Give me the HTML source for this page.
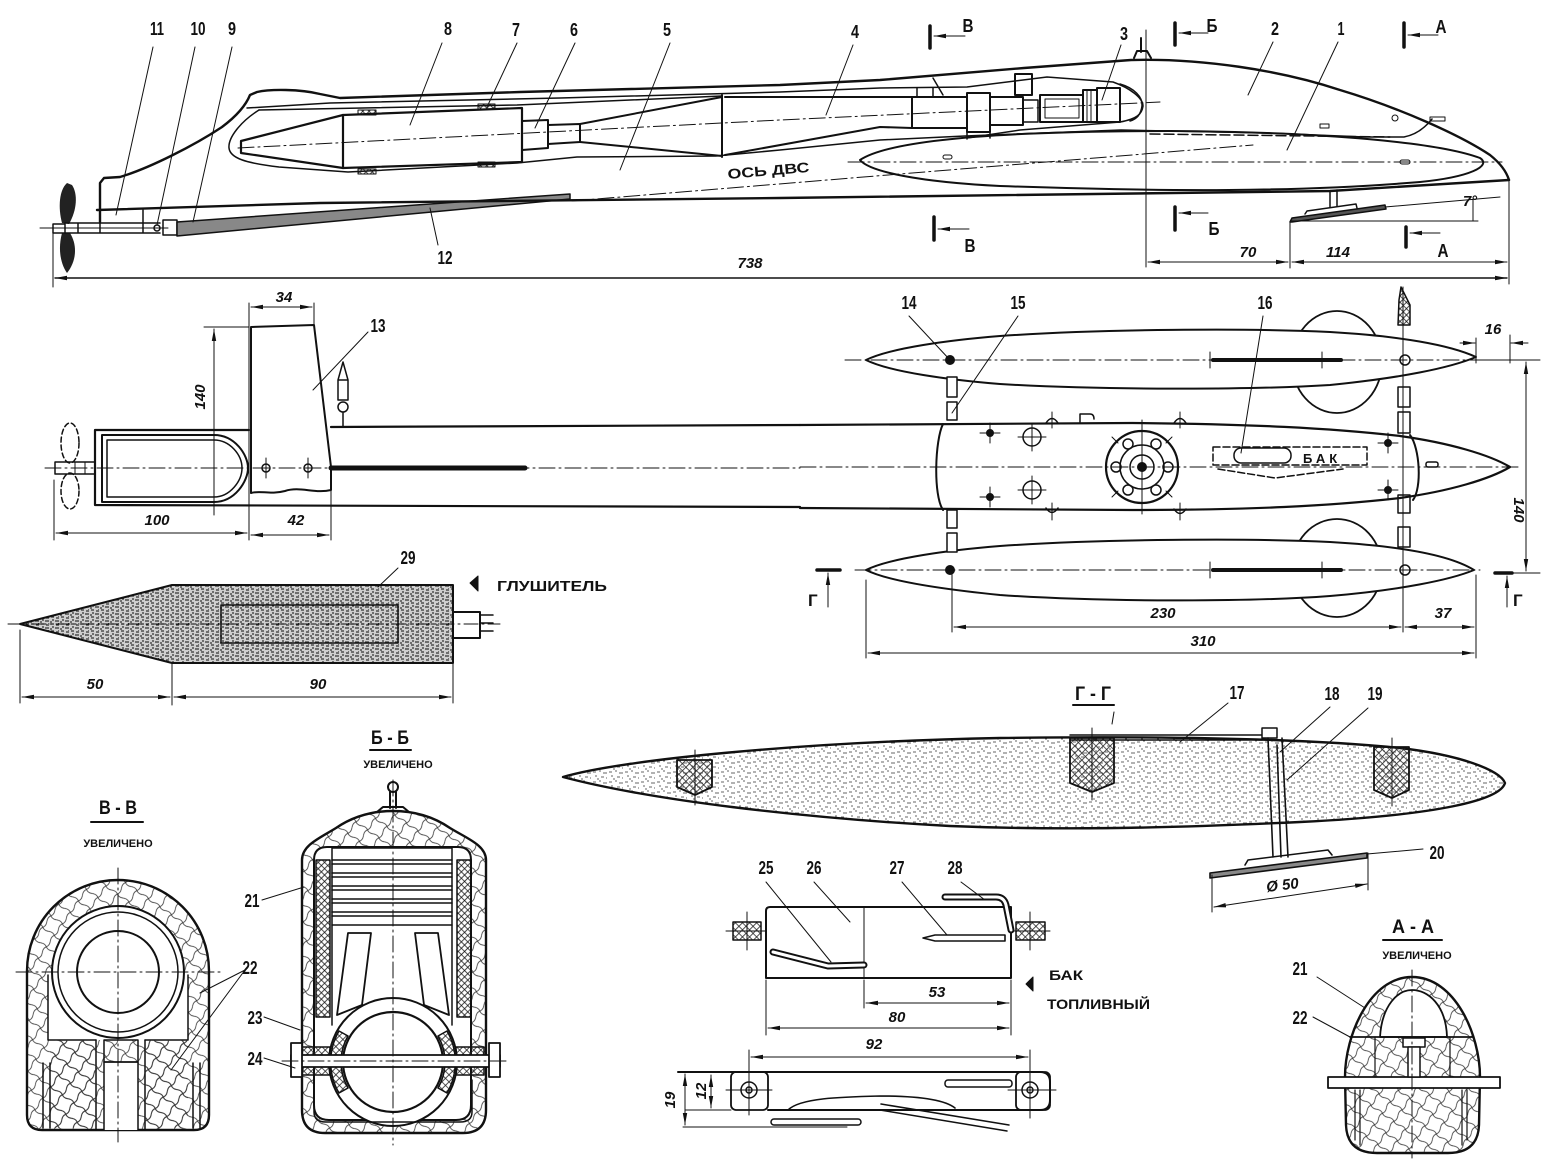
<!DOCTYPE html>
<html><head><meta charset="utf-8">
<style>
html,body{margin:0;padding:0;background:#fff}
svg{display:block}
text{font-family:"Liberation Sans",sans-serif;fill:#111;stroke:none}
.n{font-weight:bold;font-size:18px}
.d{font-weight:bold;font-style:italic;font-size:15px}
.s{font-weight:bold;font-size:19px}
.u{font-weight:bold;font-size:11px}
.c{stroke-width:1;stroke-dasharray:16 4 2 4}
.t{stroke-width:1}
</style></head><body>
<svg width="1544" height="1175" viewBox="0 0 1544 1175" xmlns="http://www.w3.org/2000/svg">
<defs>
<marker id="ar" viewBox="0 0 12 6" refX="12" refY="3" markerWidth="12" markerHeight="6" orient="auto-start-reverse" markerUnits="userSpaceOnUse"><path d="M0,0.8 L12,3 L0,5.2 Z" fill="#111"/></marker>
<pattern id="wood" width="14" height="14" patternUnits="userSpaceOnUse" patternTransform="rotate(35)"><path d="M0,7 Q4,5 7,7 T14,7 M7,0 Q9,4 7,7 T7,14" stroke="#333" stroke-width="0.8" fill="none"/></pattern>
<pattern id="xh" width="4.5" height="4.5" patternUnits="userSpaceOnUse" patternTransform="rotate(45)"><path d="M0,2.25H4.5M2.25,0V4.5" stroke="#111" stroke-width="0.8" fill="none"/></pattern>
<pattern id="xm" width="5" height="5" patternUnits="userSpaceOnUse" patternTransform="rotate(45)"><path d="M0,2.5H5M2.5,0V5" stroke="#222" stroke-width="0.8" fill="none"/></pattern>
<pattern id="st" width="16" height="10" patternUnits="userSpaceOnUse"><path d="M1,2h3M7,1h2M11,3h4M3,6h2M9,7h3M14,8h1M5,9h2" stroke="#666" stroke-width="1" fill="none"/></pattern>
<pattern id="st2" width="10" height="7" patternUnits="userSpaceOnUse"><rect width="10" height="7" fill="#cfcfcf"/><path d="M1,1h3M6,2h3M2,4h2M5,5h4M0,6h2M8,0h1" stroke="#333" stroke-width="1.2" fill="none"/></pattern>
</defs>
<rect width="1544" height="1175" fill="#fff"/>

<g fill="none" stroke="#111" stroke-width="2" stroke-linecap="round" stroke-linejoin="round">

<!-- ================= SIDE VIEW ================= -->
<path d="M67,183 C59,190 58,208 62,223 L69,224 C77,210 78,194 72,185 Z" fill="#222" stroke="none"/>
<path d="M62,233 C58,248 60,263 67,273 C76,262 78,246 70,233 Z" fill="#222" stroke="none"/>
<path d="M40,228 H168" class="t"/>
<rect x="53" y="224" width="12" height="9" stroke-width="1.5"/>
<path d="M53,232 V287" class="t"/>
<path d="M65,223 H160 M65,233 H160 M78,223 V233 M100,223 V233 M143,210 V233" stroke-width="1.5"/>
<circle cx="157" cy="228" r="3" stroke-width="1.5"/>
<rect x="163" y="220" width="14" height="15" stroke-width="1.5"/>
<path d="M177,222 L570,194 L570,199 L177,236 Z" fill="#888" stroke-width="1.5"/>
<!-- hull -->
<path d="M100,222 V183 L104,178 L120,177 C150,168 195,145 222,127 C238,115 246,105 250,95 L257,92 C270,89 300,89 320,94 L340,98 L520,92 L780,85 L880,80 L1024,68 L1131,60 C1200,58 1280,70 1340,90 C1400,108 1460,135 1490,155 Q1505,167 1509,180" stroke-width="2.4"/>
<path d="M97,210 L320,203 L780,198 L1330,191 L1509,180" stroke-width="2.4"/>
<path d="M247,108 L330,103 L560,98 L780,92 L880,88 L967,87 L1047,77 L1113,82 C1130,88 1143,98 1143,106 C1142,114 1137,119 1120,122 L1020,130 L967,138" stroke-width="1.5"/>
<path d="M933,78 L943,95 M917,88 V97 M933,88 V97" stroke-width="1.5"/>
<!-- compartment -->
<path d="M259,110 C240,122 228,138 229,148 C230,158 245,163 279,167 L348,172 L517,163 L577,157 L716,156 L780,150 L880,140 L965,136 L1121,130 L1268,133 L1365,137 L1404,137 Q1420,134 1432,119" stroke-width="1.5"/>
<path d="M259,110 L517,105 L722,96" stroke-width="1.5"/>
<!-- muffler 8 -->
<path d="M343,115 L241,141 L241,153 L343,168" stroke-width="2.2"/>
<path d="M343,115 L522,108 L522,162 L343,168 Z" stroke-width="2.2"/>
<path d="M522,121 L548,120 L548,148 L522,150 M548,125 L580,124 L580,142 L548,144" stroke-width="2"/>
<path d="M580,124 L722,97 M580,142 L722,156 M722,95 V157" stroke-width="2"/>
<path d="M725,97 L912,97 M725,155 L880,127 L912,128" stroke-width="2"/>
<rect x="358" y="110" width="18" height="5" fill="url(#xh)" stroke-width="1"/>
<rect x="478" y="104" width="17" height="5" fill="url(#xh)" stroke-width="1"/>
<rect x="358" y="169" width="18" height="5" fill="url(#xh)" stroke-width="1"/>
<rect x="478" y="162" width="17" height="5" fill="url(#xh)" stroke-width="1"/>
<!-- engine -->
<rect x="912" y="97" width="55" height="31" stroke-width="2"/>
<rect x="967" y="93" width="23" height="39" stroke-width="2"/>
<rect x="990" y="97" width="33" height="28" stroke-width="2"/>
<rect x="1015" y="74" width="17" height="21" stroke-width="2"/>
<rect x="1023" y="100" width="15" height="22" stroke-width="1.5"/>
<rect x="1040" y="95" width="43" height="27" stroke-width="2"/>
<rect x="1045" y="99" width="34" height="19" stroke-width="1"/>
<rect x="1083" y="90" width="14" height="32" stroke-width="2"/>
<path d="M1087,91 V121 M1091,91 V121" class="t"/>
<rect x="1097" y="88" width="23" height="34" stroke-width="2"/>
<path d="M1120,84 C1134,88 1143,97 1142,106 C1141,114 1137,119 1130,121" stroke-width="1.5"/>
<path d="M967,132 V139 M990,132 V138" stroke-width="1.5"/>
<path d="M1141,38 V52 M1134,58 L1137,51 H1147 L1151,58" stroke-width="2"/>
<!-- axes -->
<path class="c" d="M238,148 L780,120 L1160,102"/>
<path class="c" d="M572,201 L1253,145"/>
<text x="728" y="179" transform="rotate(-5 728 179)" font-size="14" font-weight="bold" textLength="82" lengthAdjust="spacingAndGlyphs">ОСЬ ДВС</text>
<!-- float 1 -->
<path d="M860,160 C890,140 1000,131 1170,131 C1330,132 1440,143 1480,158 C1492,166 1470,177 1420,182 C1300,192 1170,192 1000,186 C920,182 870,172 860,160 Z" stroke-width="2"/>
<path class="c" d="M848,162 H1502"/>
<path d="M1150,134 L1390,137" stroke-dasharray="10 4" stroke-width="1.5"/>
<rect x="943" y="155" width="9" height="4" rx="2" class="t"/>
<rect x="1400" y="160" width="10" height="4" rx="2" class="t"/>
<rect x="1320" y="124" width="9" height="4" class="t"/>
<circle cx="1395" cy="118" r="3" class="t"/>
<rect x="1430" y="117" width="15" height="4" class="t"/>
<!-- skeg plate -->
<path d="M1330,191 V207 M1337,190 V206" stroke-width="1.5"/>
<path d="M1290,222 L1292,218 L1385,205 L1386,209 L1292,222 Z" fill="#555" stroke-width="1.5"/>
<path d="M1305,214 L1307,211 L1356,204 L1357,208" stroke-width="1.5"/>
<path d="M1292,221 H1478 M1385,207 L1500,197 M1473,199 V221" class="t"/>
<text x="1470" y="206" class="d" text-anchor="middle">7°</text>
<!-- dims side -->
<path d="M1146,30 V267 M1290,222 V268 M1509,180 V284" class="t"/>
<path d="M1148,262 H1288" class="t" marker-start="url(#ar)" marker-end="url(#ar)"/>
<path d="M1292,262 H1507" class="t" marker-start="url(#ar)" marker-end="url(#ar)"/>
<path d="M55,278 H1507" stroke-width="1.4" marker-start="url(#ar)" marker-end="url(#ar)"/>
<text x="1248" y="257" class="d" text-anchor="middle">70</text>
<text x="1338" y="257" class="d" text-anchor="middle">114</text>
<text x="750" y="268" class="d" text-anchor="middle">738</text>
<!-- section markers -->
<path d="M930,26 V48 M934,217 V240 M1175,23 V45 M1175,207 V230 M1404,23 V47 M1406,227 V247" stroke-width="3.5"/>
<path d="M965,36 H934" class="t" marker-end="url(#ar)"/>
<path d="M969,229 H938" class="t" marker-end="url(#ar)"/>
<path d="M1208,33 H1179" class="t" marker-end="url(#ar)"/>
<path d="M1208,213 H1179" class="t" marker-end="url(#ar)"/>
<path d="M1438,35 H1408" class="t" marker-end="url(#ar)"/>
<path d="M1440,233 H1410" class="t" marker-end="url(#ar)"/>
<text x="968" y="32" class="n" text-anchor="middle" textLength="11" lengthAdjust="spacingAndGlyphs">В</text>
<text x="970" y="252" class="n" text-anchor="middle" textLength="11" lengthAdjust="spacingAndGlyphs">В</text>
<text x="1212" y="32" class="n" text-anchor="middle" textLength="11" lengthAdjust="spacingAndGlyphs">Б</text>
<text x="1214" y="235" class="n" text-anchor="middle" textLength="11" lengthAdjust="spacingAndGlyphs">Б</text>
<text x="1441" y="33" class="n" text-anchor="middle" textLength="11" lengthAdjust="spacingAndGlyphs">А</text>
<text x="1443" y="257" class="n" text-anchor="middle" textLength="11" lengthAdjust="spacingAndGlyphs">А</text>
<!-- leaders side -->
<path d="M153,47 L116,215 M195,47 L157,225 M232,47 L193,222 M442,43 L410,125 M517,43 L487,107 M575,43 L535,128 M670,43 L620,170 M853,45 L826,115 M1121,45 L1102,100 M1273,42 L1248,95 M1338,42 L1287,150 M438,245 L430,208" class="t"/>

<!-- ================= TOP VIEW (stern) ================= -->
<path d="M249,303 V540 M314,303 V325" class="t"/>
<path d="M251,307 H312" class="t" marker-start="url(#ar)" marker-end="url(#ar)"/>
<path d="M251,327 L314,325 L331,467 L331,490 C315,494 300,486 285,491 C270,495 260,490 251,493 Z" stroke-width="2"/>
<path d="M204,327 H249" class="t"/>
<path d="M214,515 V329" class="t" marker-end="url(#ar)"/>
<path d="M368,332 L313,390" class="t"/>
<path d="M338,380 L343,362 L348,380 Z M338,380 H348 V400 H338 Z M343,413 V427" stroke-width="1.5"/>
<circle cx="343" cy="407" r="5" stroke-width="1.5"/>
<path d="M95,430 H249 M331,427 L800,425 M95,505 L800,507 M95,430 V505" stroke-width="2.2"/>
<path d="M102,435 H214 C235,435 248,455 248,468 C248,481 235,502 214,502 H102 Z" stroke-width="2"/>
<path d="M107,440 H214 C230,440 242,455 242,468 C242,481 230,497 214,497 H107 Z" stroke-width="1.5"/>
<ellipse cx="70" cy="443" rx="9" ry="20" stroke-dasharray="5 3" stroke-width="1.5"/>
<ellipse cx="70" cy="491" rx="9" ry="18" stroke-dasharray="5 3" stroke-width="1.5"/>
<rect x="55" y="462" width="40" height="12" stroke-width="1.5"/>
<path d="M75,462 V474 M85,462 V474" class="t"/>
<path class="c" d="M45,468 H800"/>
<circle cx="266" cy="468" r="4" stroke-width="1.5"/>
<circle cx="308" cy="468" r="4" stroke-width="1.5"/>
<path d="M266,458 V478 M308,458 V478" class="t"/>
<path d="M331,468 H525" stroke-width="5"/>
<path d="M54,480 V540 M331,490 V540" class="t"/>
<path d="M56,533 H247" class="t" marker-start="url(#ar)" marker-end="url(#ar)"/>
<path d="M251,535 H329" class="t" marker-start="url(#ar)" marker-end="url(#ar)"/>

<!-- muffler -->
<path d="M20,624 L172,585 H453 V663 H172 Z" fill="url(#st2)" stroke-width="2"/>
<rect x="221" y="605" width="177" height="38" stroke-width="1.5"/>
<path d="M453,612 H480 M453,638 H480 M480,612 V638" stroke-width="2"/>
<path d="M480,615 H493 M480,623 H493 M480,631 H493" stroke-width="1.5"/>
<path d="M8,624 H500" class="t" stroke-dasharray="14 4 2 4"/>
<path d="M398,568 L378,587" class="t"/>
<path d="M478,576 L470,583 L478,591 Z" fill="#111" stroke-width="1"/>
<path d="M20,630 V703 M172,663 V705 M453,663 V703" class="t"/>
<path d="M22,697 H170" class="t" marker-start="url(#ar)" marker-end="url(#ar)"/>
<path d="M174,697 H451" class="t" marker-start="url(#ar)" marker-end="url(#ar)"/>

<!-- ================= TOP VIEW (front) ================= -->
<ellipse cx="1337" cy="362" rx="45" ry="51" stroke-width="1.8"/>
<ellipse cx="1337" cy="568" rx="45" ry="49" stroke-width="1.8"/>
<path d="M866,360 C890,348 950,340 1000,336 C1100,329 1250,328 1330,332 C1400,336 1450,345 1476,357 C1450,368 1400,378 1330,385 C1250,390 1100,390 1000,384 C950,380 890,372 866,360 Z" fill="#fff" stroke-width="2"/>
<path d="M866,570 C890,558 950,550 1000,546 C1100,539 1250,538 1330,542 C1400,546 1450,555 1474,570 C1450,580 1400,590 1330,596 C1250,602 1100,602 1000,595 C950,590 890,582 866,570 Z" fill="#fff" stroke-width="2"/>
<path class="c" d="M845,360 H1540"/>
<path class="c" d="M855,570 H1480"/>
<circle cx="950" cy="360" r="4" fill="#111"/>
<circle cx="950" cy="570" r="4" fill="#111"/>
<path d="M1213,360 H1341 M1213,570 H1341" stroke-width="4"/>
<path d="M1210,352 V368 M1322,352 V368 M1210,562 V578 M1322,562 V578" class="t"/>
<circle cx="1405" cy="360" r="5" stroke-width="1.5"/>
<circle cx="1405" cy="570" r="5" stroke-width="1.5"/>
<!-- struts -->
<rect x="947" y="377" width="10" height="20" stroke-width="1.5" fill="#fff"/>
<rect x="947" y="402" width="10" height="18" stroke-width="1.5" fill="#fff"/>
<rect x="947" y="510" width="10" height="18" stroke-width="1.5" fill="#fff"/>
<rect x="947" y="533" width="10" height="19" stroke-width="1.5" fill="#fff"/>
<rect x="1398" y="387" width="12" height="20" stroke-width="1.5" fill="#fff"/>
<rect x="1398" y="412" width="12" height="21" stroke-width="1.5" fill="#fff"/>
<rect x="1398" y="495" width="12" height="18" stroke-width="1.5" fill="#fff"/>
<rect x="1398" y="527" width="12" height="20" stroke-width="1.5" fill="#fff"/>
<path d="M1398,325 L1399,300 L1401,287 L1410,305 L1410,325 Z" fill="url(#xh)" stroke-width="1.5"/>
<!-- hull front -->
<path d="M800,425 L1132,423 C1250,424 1330,428 1400,436 C1450,443 1490,455 1510,467 C1490,479 1450,491 1400,498 C1330,506 1250,510 1132,510 L800,508" stroke-width="2.2"/>
<path d="M943,424 C935,440 933,495 943,510" stroke-width="2"/>
<path d="M1410,435 C1420,448 1422,488 1413,500" stroke-width="2"/>
<path class="c" d="M800,467 H1521"/>
<circle cx="1142" cy="467" r="36" stroke-width="2.2"/>
<circle cx="1142" cy="467" r="22" stroke-width="1.5"/>
<circle cx="1142" cy="467" r="12" stroke-width="1.5"/>
<circle cx="1142" cy="467" r="4" fill="#111"/>
<circle cx="1128" cy="444" r="5" stroke-width="1.5"/>
<circle cx="1156" cy="444" r="5" stroke-width="1.5"/>
<circle cx="1116" cy="467" r="5" stroke-width="1.5"/>
<circle cx="1168" cy="467" r="5" stroke-width="1.5"/>
<circle cx="1128" cy="490" r="5" stroke-width="1.5"/>
<circle cx="1156" cy="490" r="5" stroke-width="1.5"/>
<path d="M1142,420 V514 M1112,437 L1118,443 M1172,437 L1166,443 M1112,497 L1118,491 M1172,497 L1166,491" class="t"/>
<circle cx="990" cy="433" r="3" fill="#111"/>
<circle cx="990" cy="497" r="3" fill="#111"/>
<circle cx="1388" cy="443" r="3" fill="#111"/>
<circle cx="1388" cy="490" r="3" fill="#111"/>
<path d="M980,433 H1000 M990,423 V443 M980,497 H1000 M990,487 V507 M1378,443 H1398 M1388,433 V453 M1378,490 H1398 M1388,480 V500" class="t"/>
<circle cx="1032" cy="437" r="9" stroke-width="1.5"/>
<circle cx="1032" cy="490" r="9" stroke-width="1.5"/>
<path d="M1018,437 H1046 M1032,423 V451 M1018,490 H1046 M1032,476 V504" class="t"/>
<path d="M1046,423 Q1052,414 1058,423 M1174,423 Q1180,414 1186,423 M1046,508 Q1052,517 1058,508 M1174,509 Q1180,518 1186,509" stroke-width="1.5"/>
<path d="M1052,412 V428 M1180,412 V428 M1052,503 V520 M1180,503 V520" class="t"/>
<path d="M1080,422 V414 H1090 Q1094,414 1094,419" stroke-width="1.5"/>
<rect x="1213" y="447" width="154" height="18" stroke-dasharray="7 3" stroke-width="1.5"/>
<rect x="1234" y="448" width="57" height="15" rx="7" stroke-width="1.5"/>
<text x="1303" y="463" font-size="13" font-weight="bold" letter-spacing="4">БАК</text>
<path d="M1218,469 L1275,478 L1343,469" stroke-dasharray="7 3" stroke-width="1.5"/>
<rect x="1426" y="462" width="12" height="5" rx="2" stroke-width="1.5"/>
<path d="M909,316 L950,360 M1018,316 L952,413 M1263,316 L1241,453" class="t"/>
<!-- dims front -->
<path d="M1476,338 V363 M1510,335 V363" class="t"/>
<path d="M1460,343 H1475" class="t" marker-end="url(#ar)"/>
<path d="M1528,343 H1511" class="t" marker-end="url(#ar)"/>
<path d="M1478,360 H1540 M1500,573 H1540" class="t"/>
<path d="M1526,362 V571" class="t" marker-start="url(#ar)" marker-end="url(#ar)"/>
<path d="M817,570 H840 M1495,573 H1512" stroke-width="3.5"/>
<path d="M828,607 V573" class="t" marker-end="url(#ar)"/>
<path d="M1507,607 V576" class="t" marker-end="url(#ar)"/>
<path d="M952,570 V632 M866,580 V658 M1476,575 V658 M1403,287 V632" class="t"/>
<path d="M954,627 H1401" class="t" marker-start="url(#ar)" marker-end="url(#ar)"/>
<path d="M1405,627 H1474" class="t" marker-start="url(#ar)" marker-end="url(#ar)"/>
<path d="M868,653 H1474" class="t" marker-start="url(#ar)" marker-end="url(#ar)"/>

<!-- ================= В-В ================= -->
<path d="M91,822 H143" stroke-width="2"/>
<path d="M27,1115 L27,971 A91,91 0 0 1 209,971 L209,1115 Q209,1130 194,1130 L42,1130 Q27,1130 27,1115 Z" fill="url(#wood)" stroke-width="2.4"/>
<path d="M48,972 L48,1040 L96,1040 L104,1040 L104,1130 L138,1130 L138,1040 L188,1040 L188,972 Z" fill="#fff" stroke="none"/>
<path d="M48,975 V1040 H96 M188,975 V1040 H145" stroke-width="1.5"/>
<path d="M96,1040 V1130 M145,1040 V1130" stroke-width="1.5"/>
<rect x="104" y="1040" width="34" height="22" fill="url(#wood)" stroke-width="1.5"/>
<path d="M104,1062 V1130 M138,1062 V1130 M104,1062 H138" stroke-width="1.5"/>
<rect x="50" y="1040" width="46" height="88" fill="url(#wood)" stroke="none"/>
<rect x="145" y="1040" width="43" height="88" fill="url(#wood)" stroke="none"/>
<path d="M43,1063 V1128 M50,1063 V1128 M193,1063 V1128 M200,1063 V1128" stroke-width="1.5"/>
<circle cx="118" cy="972" r="66" fill="#fff" stroke-width="2"/>
<circle cx="118" cy="972" r="60" stroke-width="1.5"/>
<circle cx="118" cy="972" r="41" stroke-width="2"/>
<path class="c" d="M118,868 V1142"/>
<path class="c" d="M16,972 H222"/>
<path d="M245,970 L200,993 M245,970 L171,1070" class="t"/>

<!-- ================= Б-Б ================= -->
<path d="M370,750 H411" stroke-width="2"/>
<circle cx="393" cy="787" r="5" stroke-width="2"/>
<path d="M390,792 V808 M396,792 V808 M377,812 L383,807 H403 L409,812" stroke-width="2"/>
<path d="M302,1110 L302,860 C302,845 320,838 336,828 C355,815 375,811 393,811 C411,811 431,815 450,828 C466,838 486,845 486,860 L486,1110 Q486,1133 463,1133 L325,1133 Q302,1133 302,1110 Z" fill="url(#wood)" stroke-width="2.4"/>
<path d="M314,1105 L314,860 Q314,847 327,847 L458,847 Q471,847 471,860 L471,1105 Q471,1120 456,1120 L329,1120 Q314,1120 314,1105 Z" fill="#fff" stroke-width="2"/>
<rect x="332" y="848" width="120" height="77" fill="#fff" stroke-width="1.5"/>
<path d="M332,860 H452 M332,864 H452 M332,873 H452 M332,877 H452 M332,886 H452 M332,890 H452 M332,899 H452 M332,903 H452 M332,912 H452 M332,916 H452" stroke-width="1.6"/>
<rect x="316" y="860" width="14" height="157" fill="url(#xh)" stroke-width="1.5"/>
<rect x="457" y="860" width="14" height="157" fill="url(#xh)" stroke-width="1.5"/>
<path d="M348,933 L371,933 L362,1005 L337,1015 Z M438,933 L415,933 L424,1005 L449,1015 Z" stroke-width="1.8"/>
<path d="M332,925 V1025 M452,925 V1025" stroke-width="1.5"/>
<circle cx="393" cy="1062" r="64" fill="#fff" stroke-width="2"/>
<path d="M339,1031 A62,62 0 0 0 339,1093 L348,1088 A52,52 0 0 1 348,1036 Z M447,1031 A62,62 0 0 1 447,1093 L438,1088 A52,52 0 0 0 438,1036 Z" fill="url(#xm)" stroke-width="1.5"/>
<circle cx="393" cy="1062" r="50" stroke-width="2.2"/>
<rect x="302" y="1047" width="28" height="28" fill="url(#xm)" stroke-width="1.5"/>
<rect x="456" y="1047" width="28" height="28" fill="url(#xm)" stroke-width="1.5"/>
<rect x="291" y="1055" width="209" height="12" fill="#fff" stroke-width="1.8"/>
<rect x="291" y="1043" width="11" height="34" fill="#fff" stroke-width="1.8"/>
<rect x="489" y="1043" width="11" height="34" fill="#fff" stroke-width="1.8"/>
<path d="M314,1080 V1112 Q314,1122 326,1122 L460,1122 Q472,1122 472,1112 V1080" stroke-width="1.5"/>
<path class="c" d="M393,780 V1145"/>
<path class="c" d="M282,1061 H508"/>
<path d="M262,900 L304,887 M264,1017 L300,1030 M264,1058 L295,1068" class="t"/>

<!-- ================= Г-Г ================= -->
<path d="M1073,705 H1114" stroke-width="2"/>
<path d="M1114,712 L1112,724" class="t"/>
<path d="M563,777 C620,760 800,742 1000,738 C1150,736 1300,738 1400,748 C1460,755 1500,770 1505,783 C1500,800 1440,815 1300,822 C1150,829 1050,830 950,826 C800,818 650,800 563,777 Z" fill="url(#st)" stroke-width="2.4"/>
<path d="M677,760 L712,760 L712,787 L695,795 L677,787 Z M1070,738 L1114,738 L1114,783 L1092,792 L1070,783 Z M1374,747 L1409,747 L1409,790 L1392,798 L1374,790 Z" fill="url(#xm)" stroke-width="1.8"/>
<path d="M695,750 V805 M1092,728 V800 M1392,738 V806" class="t"/>
<path d="M1070,735 H1262 M1070,740 H1262" stroke-width="1.5"/>
<rect x="1262" y="728" width="15" height="10" fill="#fff" stroke-width="1.5"/>
<path d="M1268,738 L1273,857 M1282,738 L1288,857 M1277,745 L1281,857" stroke-width="1.6"/>
<path d="M1210,873 L1367,853 L1367,858 L1210,878 Z" fill="#888" stroke-width="1.6"/>
<path d="M1245,865 L1248,860 L1328,850 L1332,855" stroke-width="1.6"/>
<path d="M1212,875 V912 M1368,853 V890" class="t"/>
<path d="M1214,907 L1367,884" class="t" marker-start="url(#ar)" marker-end="url(#ar)"/>
<path d="M1228,703 L1180,742 M1330,707 L1280,752 M1368,708 L1287,780 M1423,849 L1367,854" class="t"/>

<!-- ================= tank ================= -->
<path d="M770,907 L1011,907 L1011,978 L766,978 L766,911 Q766,907 770,907 Z" stroke-width="2"/>
<path d="M864,907 V978" class="t"/>
<rect x="733" y="922" width="28" height="18" fill="url(#xm)" stroke-width="1.5"/>
<rect x="1016" y="922" width="29" height="18" fill="url(#xm)" stroke-width="1.5"/>
<path d="M747,912 V950 M726,931 H766 M1030,912 V950 M1010,931 H1050" class="t"/>
<path d="M945,897 H996 Q1004,897 1006,905 L1011,930" stroke-width="7" stroke="#111"/>
<path d="M945,897 H996 Q1004,897 1006,905 L1011,930" stroke-width="3" stroke="#fff"/>
<path d="M773,952 L828,966 L864,965" stroke-width="7"/>
<path d="M773,952 L828,966 L864,965" stroke-width="3" stroke="#fff"/>
<path d="M923,938 L935,935 H1005 V941 H935 Z" stroke-width="1.6"/>
<path d="M766,882 L831,962 M814,882 L850,922 M902,882 L947,935 M961,882 L985,900" class="t"/>
<path d="M766,980 V1035 M864,980 V1008 M1011,980 V1035" class="t"/>
<path d="M866,1003 H1009" class="t" marker-start="url(#ar)" marker-end="url(#ar)"/>
<path d="M768,1028 H1009" class="t" marker-start="url(#ar)" marker-end="url(#ar)"/>
<path d="M1033,977 L1026,984 L1033,991 Z" fill="#111" stroke-width="1"/>
<!-- tank bottom view -->
<path d="M749,1050 V1115 M1030,1050 V1118" class="t"/>
<path d="M751,1057 H1028" class="t" marker-start="url(#ar)" marker-end="url(#ar)"/>
<path d="M678,1072 H1040 Q1050,1072 1050,1082 V1100 Q1050,1110 1040,1110 H768" stroke-width="2"/>
<rect x="731" y="1072" width="37" height="38" rx="5" stroke-width="1.8"/>
<rect x="1016" y="1072" width="34" height="38" rx="5" stroke-width="1.8"/>
<circle cx="749" cy="1090" r="8" stroke-width="1.5"/>
<circle cx="749" cy="1090" r="3" stroke-width="1.5"/>
<circle cx="1030" cy="1090" r="8" stroke-width="1.5"/>
<circle cx="1030" cy="1090" r="3" stroke-width="1.5"/>
<path d="M726,1090 H772 M1008,1090 H1056 M1030,1068 V1118" class="t"/>
<path d="M685,1110 H731 M683,1127 H847" class="t"/>
<path d="M788,1110 C800,1098 840,1097 880,1096 C920,1096 945,1100 955,1108" stroke-width="1.6"/>
<rect x="945" y="1080" width="67" height="7" rx="3" stroke-width="1.5"/>
<rect x="771" y="1119" width="90" height="6" rx="3" stroke-width="1.5"/>
<path d="M881,1104 L1009,1125 M880,1110 L1007,1131" stroke-width="1.5"/>
<path d="M711,1075 V1108" class="t" marker-start="url(#ar)" marker-end="url(#ar)"/>
<path d="M685,1074 V1125" class="t" marker-start="url(#ar)" marker-end="url(#ar)"/>

<!-- ================= А-А ================= -->
<path d="M1383,940 H1442" stroke-width="2"/>
<path d="M1412,977 C1455,977 1480,1035 1480,1077 L1479,1125 Q1478,1153 1448,1153 L1377,1153 Q1347,1153 1346,1125 L1345,1077 C1345,1035 1370,977 1412,977 Z" fill="url(#wood)" stroke-width="2.4"/>
<path d="M1380,1037 C1382,1005 1398,990 1412,990 C1428,990 1446,1005 1447,1037 Z" fill="#fff" stroke-width="1.8"/>
<path d="M1350,1037 H1473" stroke-width="1.8"/>
<rect x="1328" y="1077" width="172" height="11" fill="#fff" stroke-width="1.8"/>
<rect x="1403" y="1038" width="22" height="9" fill="#fff" stroke-width="1.5"/>
<rect x="1408" y="1047" width="12" height="30" fill="#fff" stroke-width="1.5"/>
<path d="M1355,1090 V1140 M1360,1090 V1145 M1467,1090 V1140 M1462,1090 V1145 M1375,1037 V1077 M1450,1037 V1077" stroke-width="1.2"/>
<path class="c" d="M1412,970 V1158"/>
<path d="M1317,977 L1365,1008 M1313,1017 L1350,1037" class="t"/>
</g>

<!-- ============ TEXT LABELS ============ -->
<g class="n" text-anchor="middle">
<text x="157" y="35" class="n" textLength="14" lengthAdjust="spacingAndGlyphs">11</text>
<text x="198" y="35" class="n" textLength="15" lengthAdjust="spacingAndGlyphs">10</text>
<text x="232" y="35" class="n" textLength="8" lengthAdjust="spacingAndGlyphs">9</text>
<text x="448" y="35" class="n" textLength="8" lengthAdjust="spacingAndGlyphs">8</text>
<text x="516" y="36" class="n" textLength="8" lengthAdjust="spacingAndGlyphs">7</text>
<text x="574" y="36" class="n" textLength="8" lengthAdjust="spacingAndGlyphs">6</text>
<text x="667" y="36" class="n" textLength="8" lengthAdjust="spacingAndGlyphs">5</text>
<text x="855" y="38" class="n" textLength="8" lengthAdjust="spacingAndGlyphs">4</text>
<text x="1124" y="40" class="n" textLength="8" lengthAdjust="spacingAndGlyphs">3</text>
<text x="1275" y="35" class="n" textLength="8" lengthAdjust="spacingAndGlyphs">2</text>
<text x="1341" y="35" class="n" textLength="7" lengthAdjust="spacingAndGlyphs">1</text>
<text x="445" y="264" class="n" textLength="15" lengthAdjust="spacingAndGlyphs">12</text>
<text x="378" y="332" class="n" textLength="15" lengthAdjust="spacingAndGlyphs">13</text>
<text x="909" y="309" class="n" textLength="15" lengthAdjust="spacingAndGlyphs">14</text>
<text x="1018" y="309" class="n" textLength="15" lengthAdjust="spacingAndGlyphs">15</text>
<text x="1265" y="309" class="n" textLength="15" lengthAdjust="spacingAndGlyphs">16</text>
<text x="408" y="564" class="n" textLength="15" lengthAdjust="spacingAndGlyphs">29</text>
<text x="250" y="974" class="n" textLength="15" lengthAdjust="spacingAndGlyphs">22</text>
<text x="252" y="907" class="n" textLength="15" lengthAdjust="spacingAndGlyphs">21</text>
<text x="255" y="1024" class="n" textLength="15" lengthAdjust="spacingAndGlyphs">23</text>
<text x="255" y="1065" class="n" textLength="15" lengthAdjust="spacingAndGlyphs">24</text>
<text x="1237" y="699" class="n" textLength="15" lengthAdjust="spacingAndGlyphs">17</text>
<text x="1332" y="700" class="n" textLength="15" lengthAdjust="spacingAndGlyphs">18</text>
<text x="1375" y="700" class="n" textLength="15" lengthAdjust="spacingAndGlyphs">19</text>
<text x="1437" y="859" class="n" textLength="15" lengthAdjust="spacingAndGlyphs">20</text>
<text x="766" y="874" class="n" textLength="15" lengthAdjust="spacingAndGlyphs">25</text>
<text x="814" y="874" class="n" textLength="15" lengthAdjust="spacingAndGlyphs">26</text>
<text x="897" y="874" class="n" textLength="15" lengthAdjust="spacingAndGlyphs">27</text>
<text x="955" y="874" class="n" textLength="15" lengthAdjust="spacingAndGlyphs">28</text>
<text x="1300" y="975" class="n" textLength="15" lengthAdjust="spacingAndGlyphs">21</text>
<text x="1300" y="1024" class="n" textLength="15" lengthAdjust="spacingAndGlyphs">22</text>
</g>

<g text-anchor="middle">
<text x="284" y="302" class="d">34</text>
<text transform="translate(205,397) rotate(-90)" class="d">140</text>
<text x="157" y="525" class="d">100</text>
<text x="296" y="525" class="d">42</text>
<text x="95" y="689" class="d">50</text>
<text x="318" y="689" class="d">90</text>
<text x="1493" y="334" class="d">16</text>
<text transform="translate(1514,510) rotate(90)" class="d">140</text>
<text x="1163" y="618" class="d">230</text>
<text x="1443" y="618" class="d">37</text>
<text x="1203" y="646" class="d">310</text>
<text x="937" y="997" class="d">53</text>
<text x="897" y="1022" class="d">80</text>
<text x="874" y="1049" class="d">92</text>
<text transform="translate(706,1091) rotate(-90)" class="d" font-size="12">12</text>
<text transform="translate(675,1100) rotate(-90)" class="d" font-size="13">19</text>
<text transform="translate(1283,890) rotate(-7)" class="d">Ø 50</text>

<text x="118" y="814" class="s" textLength="38" lengthAdjust="spacingAndGlyphs">В - В</text>
<text x="118" y="847" class="u">УВЕЛИЧЕНО</text>
<text x="390" y="744" class="s" textLength="38" lengthAdjust="spacingAndGlyphs">Б - Б</text>
<text x="398" y="768" class="u">УВЕЛИЧЕНО</text>
<text x="1093" y="700" class="s" textLength="36" lengthAdjust="spacingAndGlyphs">Г - Г</text>
<text x="1413" y="933" class="s" textLength="42" lengthAdjust="spacingAndGlyphs">А - А</text>
<text x="1417" y="959" class="u">УВЕЛИЧЕНО</text>
</g>
<text x="497" y="591" font-size="15" font-weight="bold" textLength="110" lengthAdjust="spacingAndGlyphs">ГЛУШИТЕЛЬ</text>
<text x="1049" y="980" font-size="14" font-weight="bold" textLength="34" lengthAdjust="spacingAndGlyphs">БАК</text>
<text x="1047" y="1009" font-size="14" font-weight="bold" textLength="103" lengthAdjust="spacingAndGlyphs">ТОПЛИВНЫЙ</text>
<text x="808" y="606" font-size="17" font-weight="bold">Г</text>
<text x="1513" y="606" font-size="17" font-weight="bold">Г</text>
</svg>
</body></html>
